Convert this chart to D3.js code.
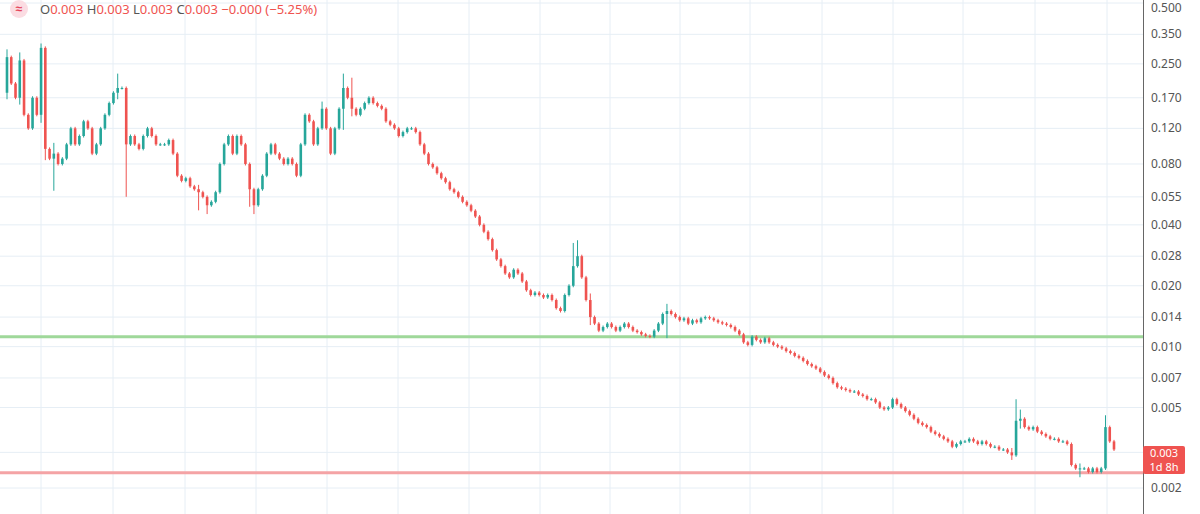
<!DOCTYPE html>
<html>
<head>
<meta charset="utf-8">
<script src="https://cdn.jsdelivr.net/npm/d3@7"></script>
<style>
  body { margin: 0; background: #fff; font-family: "Noto Sans", sans-serif; }
</style>
</head>
<body>
<svg id="chart" width="1200" height="514"></svg>
<script>
(function(){

// closing prices, one per candle (open = previous close)
let closes = [
  0.27,0.20,0.17,0.26,0.14,0.12,0.17,0.14,0.30,0.095,
  0.085,0.09,0.08,0.085,0.10,0.12,0.10,0.11,0.13,0.12,
  0.09,0.10,0.12,0.14,0.16,0.18,0.19,0.19,0.10,0.11,
  0.10,0.095,0.11,0.12,0.11,0.10,0.10,0.10,0.105,0.09,
  0.07,0.066,0.068,0.062,0.060,0.058,0.055,0.050,0.052,0.058,
  0.080,0.10,0.11,0.09,0.11,0.10,0.08,0.06,0.05,0.06,
  0.07,0.09,0.10,0.09,0.085,0.08,0.085,0.08,0.07,0.10,
  0.14,0.13,0.10,0.12,0.15,0.12,0.09,0.12,0.15,0.19,
  0.17,0.15,0.14,0.15,0.16,0.17,0.16,0.155,0.15,0.13,
  0.125,0.12,0.11,0.115,0.12,0.12,0.115,0.10,0.09,0.08,
  0.077,0.072,0.068,0.065,0.060,0.058,0.055,0.052,0.050,0.047,
  0.044,0.040,0.037,0.034,0.030,0.027,0.025,0.023,0.022,0.024,
  0.023,0.021,0.019,0.018,0.0185,0.018,0.0175,0.018,0.017,0.0155,
  0.015,0.018,0.020,0.025,0.028,0.022,0.017,0.014,0.013,
  0.012,0.0125,0.013,0.0125,0.012,0.0125,0.013,0.0125,0.012,0.0118,0.0115,0.0113,
  0.0112,0.012,0.013,0.0145,0.015,
  0.0145,0.014,0.0135,0.0138,0.013,0.0135,0.0132,0.0138,0.014,0.0138,
  0.0135,0.0132,0.013,0.0128,0.0125,0.012,0.0115,0.0105,0.0102,
  0.0112,0.0108,0.0105,0.011,0.0105,0.0102,0.010,0.0098,0.0095,
  0.0093,0.009,0.0088,0.0085,0.0082,0.008,0.0078,0.0075,0.0072,0.007,0.0066,0.0063,
  0.0062,0.0061,0.006,0.006,0.0058,0.0057,0.0055,0.0055,0.0053,0.005,0.0049,0.005,0.0055,
  0.0052,0.005,0.0048,0.0046,0.0044,0.0042,0.0041,0.004,0.0038,0.0037,0.0036,0.0035,0.0034,0.0032,
  0.0033,0.0034,0.0034,0.0035,0.0034,0.0033,0.0034,0.0033,0.0032,0.0032,0.0031,0.0031,0.003,0.0029,
  0.0043,0.0044,0.0040,0.0039,0.0040,0.0038,0.0037,0.0036,0.0035,0.0035,0.0034,0.0034,0.0033,
  0.0026,0.0025,0.0025,0.0025,0.0024,0.0025,0.0024,0.0025,
  0.0040,0.0034,0.0031
];
let firstOpen = 0.18;

// notable wick extremes: [candle index, high, low]
let wicks = [
  [0, 0.29, 0.17], [3, 0.28, 0.16], [8, 0.31, 0.13], [9, 0.30, 0.085],
  [11, 0.10, 0.06], [26, 0.22, 0.17], [28, 0.19, 0.056], [45, 0.062, 0.048],
  [47, 0.055, 0.046], [57, 0.07, 0.05], [58, 0.06, 0.046], [74, 0.16, 0.12],
  [79, 0.22, 0.12], [81, 0.21, 0.14], [133, 0.032, 0.022], [134, 0.033, 0.025],
  [137, 0.018, 0.013], [155, 0.016, 0.0112], [236, 0.0031, 0.0028],
  [237, 0.0054, 0.0029], [238, 0.0048, 0.0040], [252, 0.0026, 0.0023],
  [258, 0.0045, 0.0025]
];

let yTicks = [0.5, 0.35, 0.25, 0.17, 0.12, 0.08, 0.055, 0.04, 0.028, 0.02,
              0.014, 0.01, 0.007, 0.005, 0.003, 0.002];
let xGrid = [41, 113, 185, 256, 327, 398, 469, 540, 610, 680, 750, 822, 893, 963, 1035, 1107];
let supportLevel = 0.0112;
let floorLevel = 0.00238;
let lastPrice = 0.00305;

let up = "#26a69a", down = "#ef5350";
let W = 1200, H = 514, axisX = 1143;

let svg = d3.select("#chart");

let x = d3.scaleLinear().domain([0, closes.length - 1]).range([7, 1114]);
let y = d3.scaleLog().domain([0.5, 0.002]).range([3, 488]);

// grid
svg.append("g").selectAll("line").data(yTicks).enter().append("line")
  .attr("x1", 0).attr("x2", axisX)
  .attr("y1", d => y(d)).attr("y2", d => y(d))
  .attr("stroke", "#e6eef5");
svg.append("g").selectAll("line").data(xGrid).enter().append("line")
  .attr("x1", d => d).attr("x2", d => d)
  .attr("y1", 0).attr("y2", H)
  .attr("stroke", "#e6eef5");

// horizontal levels
svg.append("line").attr("x1", 0).attr("x2", axisX)
  .attr("y1", y(supportLevel)).attr("y2", y(supportLevel))
  .attr("stroke", "#9fd89a").attr("stroke-width", 3);
svg.append("line").attr("x1", 0).attr("x2", axisX)
  .attr("y1", y(floorLevel)).attr("y2", y(floorLevel))
  .attr("stroke", "#f4a3a5").attr("stroke-width", 3);

// candles
let data = closes.map((c, i) => {
  let o = i === 0 ? firstOpen : closes[i - 1];
  let w = wicks.find(k => k[0] === i);
  let hi = Math.max(o, c), lo = Math.min(o, c);
  return { i, o, c, h: w ? Math.max(w[1], hi) : hi, l: w ? Math.min(w[2], lo) : lo };
});
let bw = 2.6;
let candles = svg.append("g").selectAll("g").data(data).enter().append("g");
candles.append("line")
  .attr("x1", d => x(d.i)).attr("x2", d => x(d.i))
  .attr("y1", d => y(d.h) - 1.5).attr("y2", d => y(d.l) + 1.5)
  .attr("stroke", d => d.c >= d.o ? up : down).attr("stroke-width", 1);
candles.append("rect")
  .attr("x", d => x(d.i) - bw / 2).attr("width", bw)
  .attr("y", d => y(Math.max(d.o, d.c)))
  .attr("height", d => Math.max(1, Math.abs(y(d.o) - y(d.c))))
  .attr("fill", d => d.c >= d.o ? up : down);

// right axis (the 0.003 tick sits under the last price label)
svg.append("rect").attr("x", axisX).attr("y", 0).attr("width", W - axisX).attr("height", H).attr("fill", "#fff");
svg.append("line").attr("x1", axisX + 0.5).attr("x2", axisX + 0.5)
  .attr("y1", 0).attr("y2", H).attr("stroke", "#666");
svg.append("g").selectAll("text").data(yTicks.filter(d => d !== 0.003)).enter().append("text")
  .attr("x", 1151).attr("y", d => Math.max(y(d) + 4, 12))
  .attr("font-size", 12).attr("fill", "#555")
  .text(d => d.toFixed(3));

// last price label
svg.append("rect").attr("x", axisX).attr("y", 446).attr("width", 42).attr("height", 28)
  .attr("rx", 2).attr("fill", "#ef5350");
svg.append("text").attr("x", 1164).attr("y", 457).attr("text-anchor", "middle")
  .attr("font-size", 11).attr("fill", "#fff").text(lastPrice.toFixed(3));
svg.append("text").attr("x", 1164).attr("y", 471).attr("text-anchor", "middle")
  .attr("font-size", 11).attr("fill", "#fff").text("1d 8h");

// legend
svg.append("circle").attr("cx", 19).attr("cy", 9).attr("r", 9).attr("fill", "#fbdce2");
svg.append("text").attr("x", 19).attr("y", 13).attr("text-anchor", "middle")
  .attr("font-size", 12).attr("font-weight", "bold").attr("fill", "#e5455a").text("≈");
let legend = svg.append("text").attr("x", 40).attr("y", 14).attr("font-size", 13);
[["O", "0.003 "], ["H", "0.003 "], ["L", "0.003 "], ["C", "0.003 "], ["", "−0.000 (−5.25%)"]]
  .forEach(p => {
    legend.append("tspan").attr("fill", "#555").text(p[0]);
    legend.append("tspan").attr("fill", "#ef5350").text(p[1]);
  });

})();
</script>
</body>
</html>
